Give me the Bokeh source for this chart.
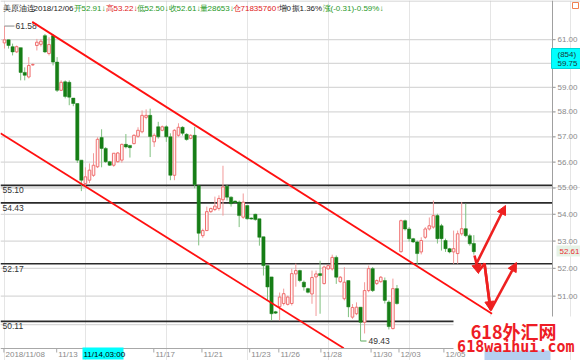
import math
from bokeh.plotting import figure
from bokeh.models import Range1d, ColumnDataSource, Arrow, NormalHead
from bokeh.core.properties import value
from bokeh.embed import file_html
from bokeh.resources import INLINE

# ---------------- data ----------------
opens = [60.86, 60.99, 60.70, 60.48, 60.66, 59.62, 59.43, 59.93, 60.75, 60.80,
         61.17, 60.41, 61.17, 60.05, 58.88, 59.23, 59.21, 58.56, 58.34, 56.08,
         55.17, 55.30, 55.49, 55.82, 56.97, 56.54, 56.02, 55.88, 56.02, 56.08,
         56.70, 56.66, 56.73, 57.02, 57.20, 57.78, 57.86, 56.80, 57.40, 57.26,
         57.40, 57.00, 55.49, 57.06, 57.38, 57.10, 56.94, 57.06, 55.09, 53.20,
         53.39, 54.10, 54.18, 54.22, 54.55, 55.07, 54.65, 54.50, 54.46, 53.89,
         54.33, 53.86, 54.00, 53.83, 53.16, 52.10, 51.69, 50.45, 50.63, 50.74,
         50.71, 50.74, 51.80, 51.92, 51.50, 51.27, 51.08, 51.69, 51.81, 51.45,
         51.98, 51.98, 52.40, 51.52, 50.91, 51.56, 50.26, 50.38, 50.61, 50.08,
         51.20, 51.99, 51.45, 51.52, 51.56, 50.79, 49.86, 51.27, 52.61, 53.76,
         53.45, 53.09, 52.97, 52.60, 53.14, 53.45, 53.52, 53.95, 53.57, 53.02,
         52.72, 52.60, 52.54, 53.27, 53.46, 53.20, 52.91]
highs = [61.58, 61.00, 60.83, 60.75, 60.66, 59.83, 60.26, 60.00, 61.03, 61.03,
         61.24, 61.10, 61.24, 60.26, 59.29, 59.29, 59.29, 58.56, 58.34, 56.08,
         55.80, 55.95, 56.35, 56.98, 57.30, 56.59, 56.05, 56.35, 56.40, 56.73,
         57.11, 56.67, 57.10, 57.38, 58.06, 58.10, 58.13, 57.14, 57.60, 57.45,
         57.46, 57.14, 57.30, 57.54, 57.42, 57.14, 57.10, 57.40, 55.09, 53.46,
         54.29, 54.25, 54.67, 54.72, 55.86, 55.12, 54.68, 54.52, 54.52, 54.79,
         54.33, 53.88, 54.02, 53.83, 53.16, 52.10, 51.69, 50.48, 51.13, 51.27,
         51.02, 51.99, 52.17, 51.95, 51.56, 51.30, 51.92, 51.92, 52.28, 52.10,
         52.13, 52.50, 52.47, 51.72, 52.04, 51.56, 50.72, 50.78, 50.61, 51.50,
         52.10, 52.05, 51.60, 51.72, 51.67, 50.85, 51.63, 51.40, 53.80, 53.80,
         53.52, 53.12, 53.02, 53.14, 53.52, 53.88, 54.52, 54.02, 53.64, 53.09,
         52.75, 53.39, 53.39, 54.46, 54.40, 53.27, 53.22]
lows = [60.62, 60.62, 60.33, 60.43, 59.29, 59.29, 59.37, 59.90, 60.54, 60.71,
        60.43, 60.33, 59.91, 58.81, 58.85, 58.55, 58.27, 58.23, 55.97, 54.88,
        55.05, 55.19, 55.43, 55.77, 55.80, 55.97, 55.85, 55.82, 55.98, 55.98,
        56.54, 56.18, 56.70, 56.96, 57.14, 57.70, 56.20, 56.60, 56.93, 57.22,
        56.80, 55.30, 55.30, 57.00, 57.05, 56.85, 56.90, 54.99, 52.84, 53.12,
        53.37, 54.05, 54.12, 54.14, 53.95, 54.52, 54.29, 54.42, 53.52, 53.83,
        53.80, 53.80, 53.76, 52.83, 51.74, 50.85, 50.14, 50.37, 50.14, 50.67,
        50.67, 50.67, 51.34, 51.50, 51.20, 51.10, 50.73, 50.30, 50.38, 51.42,
        51.95, 51.92, 51.44, 51.48, 50.85, 50.26, 50.20, 50.33, 49.43, 49.69,
        51.14, 51.15, 51.40, 51.48, 50.74, 49.83, 49.83, 50.70, 52.57, 53.39,
        52.98, 52.93, 52.10, 52.51, 53.08, 53.39, 53.46, 52.91, 52.65, 52.60,
        52.55, 52.17, 52.17, 53.20, 53.14, 52.83, 52.50]
closes = [60.99, 60.75, 60.48, 60.70, 59.62, 59.50, 59.91, 59.95, 60.89, 60.93,
          60.48, 60.79, 60.05, 58.88, 59.21, 58.63, 58.60, 58.34, 56.08, 55.30,
          55.43, 55.69, 55.88, 56.90, 56.54, 56.02, 55.88, 56.35, 56.36, 56.70,
          56.60, 56.57, 57.06, 57.26, 57.86, 57.86, 57.01, 57.06, 57.00, 57.40,
          57.00, 55.49, 57.26, 57.38, 57.14, 56.89, 57.06, 55.12, 53.29, 53.39,
          54.10, 54.22, 54.31, 54.60, 55.04, 54.65, 54.40, 54.45, 53.95, 54.46,
          53.83, 53.82, 53.80, 53.14, 52.10, 51.33, 50.38, 50.40, 50.97, 51.09,
          50.97, 51.81, 51.92, 51.56, 51.33, 51.14, 51.67, 51.80, 51.74, 52.05,
          52.10, 52.40, 51.68, 51.68, 51.50, 50.62, 50.60, 50.61, 50.08, 51.20,
          51.99, 51.20, 51.56, 51.68, 50.85, 49.93, 51.27, 50.74, 53.76, 53.45,
          53.09, 52.97, 52.54, 53.02, 53.45, 53.57, 53.95, 53.09, 53.09, 52.72,
          52.60, 52.72, 53.27, 53.46, 53.20, 52.90, 52.61]

price_ticks = [50, 51, 52, 53, 54, 55, 56, 57, 58, 59, 60, 61]
price_tick_labels = ["50.00", "51.00", "52.00", "53.00", "54.00", "55.00",
                     "56.00", "57.00", "58.00", "59.00", "60.00", "61.00"]
level_prices = [55.10, 54.43, 52.17, 50.11]
level_labels = ["55.10", "54.43", "52.17", "50.11"]
date_labels = ["2018/11/08", "11/13", "11/17", "11/21", "11/23", "11/26",
               "11/28", "11/30", "12/03", "12/05"]
date_index = [0.25, 13.3, 37.3, 49.2, 61.0, 68.2, 78.6, 91.0, 97.9, 109.0]
# trend channel (candle index, price)
upper_x = [6.85, 120.5]
upper_y = [61.76, 50.38]
lower_x = [-0.99, 83.86]
lower_y = [57.14, 49.18]
high_mark = 61.58
low_mark = 49.43
last_close = 52.61
cursor_count = "(854)"
cursor_price = 59.75
header = ["美原油连", "2018/12/06", "开52.91↓", "高53.22↓", "低52.50↓", "收52.61↓",
          "量28653↓", "仓71835760↑", "增0", "振1.36%", "涨(-0.31)-0.59%↓"]

# ---------------- pixel <-> data helpers (layout) ----------------
W, H = 580, 360
X0, DX = 4.0, 4.046
A, B = 5930.0, 1433.0


def ix(px):
    return (px - X0) / DX


def pr(py):
    return math.exp((A - py) / B)


def py(price):
    return A - B * math.log(price)


FONT = value("Liberation Sans")

p = figure(width=W, height=H, output_backend="svg", toolbar_location=None,
           x_range=Range1d(ix(0), ix(W)), y_range=Range1d(pr(H), pr(0)),
           y_axis_type="log", x_axis_location=None, y_axis_location=None,
           min_border=0)
p.outline_line_color = None
p.background_fill_color = "white"
p.border_fill_color = "white"

n = len(opens)
idx = list(range(n))

# top border
p.segment(x0=[ix(0)], x1=[ix(580)], y0=[pr(0.5)], y1=[pr(0.5)], line_color="#c8c8c8", line_width=1)

# horizontal gridlines
p.segment(x0=[ix(0)] * len(price_ticks), x1=[ix(555)] * len(price_ticks),
          y0=price_ticks, y1=price_ticks, line_color="#d8d8d8", line_width=1.3)

# support / resistance levels
p.segment(x0=[ix(0)] * 4, x1=[ix(552)] * 4, y0=level_prices, y1=level_prices,
          line_color="#2a2a2a", line_width=1.6)
p.text(x=[ix(2)] * 4, y=[pr(py(v) + 2) for v in level_prices], text=level_labels,
       text_font=FONT, text_font_size="8.5px",
       text_color="#333333", text_baseline="top", text_align="left")

# candles
up = [i for i in idx if closes[i] >= opens[i]]
dn = [i for i in idx if closes[i] < opens[i]]
src_up = ColumnDataSource(dict(x=up, o=[opens[i] for i in up], c=[closes[i] for i in up],
                               h=[highs[i] for i in up], l=[lows[i] for i in up]))
src_dn = ColumnDataSource(dict(x=dn, o=[opens[i] for i in dn], c=[closes[i] for i in dn],
                               h=[highs[i] for i in dn], l=[lows[i] for i in dn]))
p.segment(x0="x", x1="x", y0="l", y1="h", source=src_up, line_color="#f29a9a", line_width=1)
p.segment(x0="x", x1="x", y0="l", y1="h", source=src_dn, line_color="#7fc07f", line_width=1)
p.vbar(x="x", width=0.65, top="c", bottom="o", source=src_up,
       fill_color="#fff4f4", line_color="#ef6f6f", line_width=1)
p.vbar(x="x", width=0.8, top="o", bottom="c", source=src_dn,
       fill_color="#167e16", line_color="#167e16", line_width=0.5)

# high / low markers
p.line(x=[0, ix(14)], y=[high_mark, high_mark], line_color="#888888", line_width=1)
p.text(x=[ix(15)], y=[high_mark], text=["%.2f" % high_mark], text_font=FONT,
       text_font_size="8.5px", text_color="#333333", text_baseline="middle")
p.line(x=[88, ix(366)], y=[low_mark, low_mark], line_color="#5aa95a", line_width=1)
p.text(x=[ix(368)], y=[low_mark], text=["%.2f" % low_mark], text_font=FONT,
       text_font_size="8.5px", text_color="#333333", text_baseline="middle")

# channel lines
p.line(x=upper_x, y=upper_y, line_color="#ff1010", line_width=1.8)
p.line(x=lower_x, y=lower_y, line_color="#ff1010", line_width=1.8)

# hand drawn arrows
RED = "#ee2020"
p.line(x=[ix(474), ix(478), ix(484), ix(490)],
       y=[pr(255), pr(271), pr(263), pr(309)], line_color=RED, line_width=2.6)
arrows = [((476.5, 262), (505, 205)), ((475.5, 262), (478, 273)),
          ((484, 263), (490, 310)), ((490, 310), (516, 262))]
for (a0, a1) in arrows:
    p.add_layout(Arrow(end=NormalHead(size=9, fill_color=RED, line_color=RED),
                       x_start=ix(a0[0]), y_start=pr(a0[1]), x_end=ix(a1[0]), y_end=pr(a1[1]),
                       line_color=RED, line_width=2.6))

# right axis
p.segment(x0=[ix(552)], x1=[ix(552)], y0=[pr(0)], y1=[pr(348)], line_color="#a0a0a0", line_width=1)
p.segment(x0=[ix(552)] * len(price_ticks), x1=[ix(555)] * len(price_ticks),
          y0=price_ticks, y1=price_ticks, line_color="#a0a0a0", line_width=1)
p.text(x=[ix(557)] * len(price_ticks), y=price_ticks, text=price_tick_labels,
       text_font=FONT, text_font_size="8px", text_color="#8a8a8a",
       text_baseline="middle", text_align="left")

# cursor price box
p.quad(left=[ix(551)], right=[ix(580)], top=[pr(48)], bottom=[pr(68)], fill_color="#00ffff",
       line_color="#00d8d8")
p.text(x=[ix(557), ix(557)], y=[pr(53.5), pr(63)], text=[cursor_count, "%.2f" % cursor_price],
       text_font=FONT, text_font_size="8px", text_color="#1a3a3a",
       text_baseline="middle")

# last price tag
p.quad(left=[ix(556)], right=[ix(580)], top=[pr(245)], bottom=[pr(256)], fill_color="#e6f2e6",
       line_color=None)
p.text(x=[ix(559)], y=[pr(250.5)], text=["%.2f" % last_close], text_font=FONT,
       text_font_size="8px", text_color="#e83030", text_baseline="middle")

# icon top right
p.quad(left=[ix(572)], right=[ix(578)], top=[pr(2)], bottom=[pr(8)], fill_color=None,
       line_color="#f08050", line_width=1)

# bottom axis
p.segment(x0=[ix(0)], x1=[ix(580)], y0=[pr(348)], y1=[pr(348)], line_color="#a8a8a8", line_width=1)
p.segment(x0=[d - 0.4 for d in date_index], x1=[d - 0.4 for d in date_index],
          y0=[pr(348)] * len(date_index), y1=[pr(352)] * len(date_index),
          line_color="#a8a8a8", line_width=1)
p.text(x=date_index, y=[pr(354)] * len(date_index), text=date_labels,
       text_font=FONT, text_font_size="8px", text_color="#8a8a8a",
       text_baseline="middle", text_align="left")
p.quad(left=[ix(82)], right=[ix(123)], top=[pr(347)], bottom=[pr(359)], fill_color="#00ffff",
       line_color=None)
p.text(x=[ix(83)], y=[pr(353.5)], text=["11/14,03:00"], text_font=FONT,
       text_font_size="8px", text_color="#000000", text_baseline="middle")
p.quad(left=[ix(484)], right=[ix(550)], top=[pr(350)], bottom=[pr(360)], fill_color="#b4cff0",
       line_color=None)

# watermark
p.quad(left=[ix(453)], right=[ix(580)], top=[pr(316)], bottom=[pr(349)], fill_color="white",
       line_color=None)
p.text(x=[ix(556)], y=[pr(330)], text=["618外汇网"], text_font=value("Noto Sans CJK SC"),
       text_font_size="18px", text_font_style="bold", text_color="#ee1c25",
       text_baseline="middle", text_align="right")
p.text(x=[ix(574)], y=[pr(346)], text=["618waihui.com"], text_font=value("DejaVu Sans Mono"),
       text_font_size="15px", text_font_style="bold", text_color="#ee1c25",
       text_baseline="middle", text_align="right")

# header
head_x = [2, 33, 73, 105, 136, 168, 199, 232, 278, 291, 322]
head_c = ["#222222", "#222222", "#1f9a1f", "#e02020", "#1f9a1f", "#1f9a1f",
          "#1f9a1f", "#e02020", "#222222", "#222222", "#1f9a1f"]
p.text(x=[ix(v) for v in head_x], y=[pr(7.5)] * len(header), text=header,
       text_color=head_c, text_font=FONT, text_font_size="8px",
       text_baseline="middle", text_align="left")

open("out.html", "w").write(file_html(p, INLINE))
